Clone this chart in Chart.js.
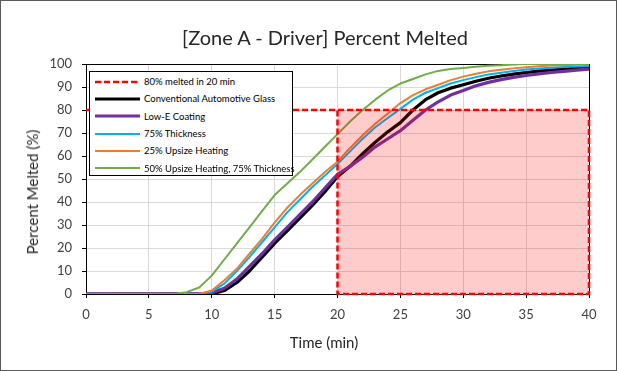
<!DOCTYPE html>
<html>
<head>
<meta charset="utf-8">
<script src="https://cdn.jsdelivr.net/npm/chart.js@4.4.1/dist/chart.umd.min.js"></script>
<style>
    html, body { margin: 0; padding: 0; background: #fff; }
    #wrap { position: relative; width: 617px; height: 371px; font-family: 'Lato', 'Noto Sans', sans-serif; color: #262626; }
    #wrap canvas { position: absolute; left: 0; top: 0; }
    .frame { position: absolute; left: 0; top: 0; width: 615px; height: 369px; border: 1px solid #595959; pointer-events: none; }
    .title { position: absolute; left: 325px; top: 26px; transform: translateX(-50%); font-size: 20px; line-height: 22px; white-space: nowrap; }
    .x-title { position: absolute; left: 324px; top: 334px; transform: translateX(-50%); font-size: 15px; line-height: 16px; white-space: nowrap; }
    .y-title { position: absolute; left: 32px; top: 192px; transform: translate(-50%, -50%) rotate(-90deg); font-size: 15px; line-height: 16px; white-space: nowrap; }
    .legend { position: absolute; left: 89px; top: 71px; width: 204px; height: 105px; border: 1px solid #000; background: #fff; padding-top: 1px; box-sizing: border-box; }
    .legend-row { display: flex; align-items: center; height: 17.3px; font-size: 9.5px; color: #000; white-space: nowrap; }
    .legend-row svg { margin-left: 5px; margin-right: 4px; flex: none; }
</style>
</head>
<body>
<div id="wrap">
    <canvas id="melt-chart" width="617" height="371"></canvas>
    <div class="title">[Zone A - Driver] Percent Melted</div>
    <div class="x-title">Time (min)</div>
    <div class="y-title">Percent Melted (%)</div>
    <div class="legend" id="legend"></div>
    <div class="frame"></div>
</div>
<script>
// time axis (min) shared by all measured curves
const times = [0, 7, 8, 9, 10, 11, 12, 13, 14, 15, 16, 17, 18, 19, 20, 21, 22, 23, 24, 25,
    26, 27, 28, 29, 30, 31, 32, 33, 34, 35, 36, 37, 38, 39, 40];

// percent melted
const conventional = [0, 0, 0, 0, 0, 1.5, 5, 10, 16, 22, 27.5, 33, 38.5, 44.5, 51, 55.5, 61, 66, 70.5, 74.5,
    80, 84.5, 87.5, 89.5, 91, 92.5, 93.8, 94.8, 95.6, 96.3, 96.9, 97.4, 97.8, 98.2, 98.6];
const lowE = [0, 0, 0, 0, 0.5, 2.5, 6.5, 12, 17.5, 23.5, 29, 34.5, 40, 46, 52, 55.5, 59.5, 64, 67.5, 71,
    75.5, 80, 83.5, 86.5, 88.5, 90.5, 92, 93.2, 94.2, 95, 95.7, 96.3, 96.8, 97.3, 97.8];
const thickness75 = [0, 0, 0, 0, 1, 4.5, 10, 16, 22.5, 29, 35.5, 41, 46.5, 51.5, 56.5, 62, 67.5, 72.5, 76.5, 80.5,
    84.5, 87.5, 89.5, 91.5, 93, 94.3, 95.4, 96.2, 97, 97.6, 98, 98.4, 98.7, 98.9, 99.1];
const upsize25 = [0, 0, 0, 0, 1.5, 6, 11, 17.5, 24, 31, 37.5, 43, 48, 53, 57.5, 63.5, 69, 74, 78.5, 83,
    86.5, 89, 91, 93, 94.5, 95.8, 96.8, 97.5, 98.1, 98.6, 99, 99.3, 99.5, 99.7, 99.8];
const upsize50Thick75 = [0, 0, 0.8, 2.8, 8, 15, 22, 29, 36, 43, 48, 53, 58.5, 64, 69.5, 75, 80, 84.5, 88.5, 91.5,
    93.5, 95.5, 97, 97.8, 98.3, 98.8, 99.2, 99.5, 99.8, 100, 100, 100, 100, 100, 100];

// target: 80% melted in 20 min
const targetX = [0, 40, 40, 20, 20];
const targetY = [80, 80, 0, 0, 80];
const targetFillX = [20, 40];
const targetFillY = [80, 80];

const xTicks = [0, 5, 10, 15, 20, 25, 30, 35, 40];
const yTicks = [0, 10, 20, 30, 40, 50, 60, 70, 80, 90, 100];

const series = [
    { label: 'Conventional Automotive Glass', values: conventional, color: '#000000', width: 3.2 },
    { label: 'Low-E Coating', values: lowE, color: '#7030A0', width: 3.2 },
    { label: '75% Thickness', values: thickness75, color: '#00B0F0', width: 2 },
    { label: '25% Upsize Heating', values: upsize25, color: '#ED7D31', width: 2 },
    { label: '50% Upsize Heating, 75% Thickness', values: upsize50Thick75, color: '#70AD47', width: 2 },
];

function toPoints(xs, ys) {
    return xs.map((x, i) => ({ x: x, y: ys[i] }));
}

function renderLegend() {
    const rows = [`
        <div class="legend-row">
            <svg width="45" height="4"><line x1="0" y1="2" x2="45" y2="2" stroke="#FF0000" stroke-width="2.5" stroke-dasharray="6 3"/></svg>
            80% melted in 20 min
        </div>`];
    series.forEach(s => {
        rows.push(`
        <div class="legend-row">
            <svg width="45" height="4"><line x1="0" y1="2" x2="45" y2="2" stroke="${s.color}" stroke-width="${s.width}"/></svg>
            ${s.label}
        </div>`);
    });
    document.getElementById('legend').innerHTML = rows.join('');
}

function renderChart() {
    const datasets = [
        {
            label: 'target area',
            data: toPoints(targetFillX, targetFillY),
            fill: 'origin',
            backgroundColor: 'rgba(255, 0, 0, 0.2)',
            borderWidth: 0,
            pointRadius: 0,
            order: 0,
        },
        {
            label: '80% melted in 20 min',
            data: toPoints(targetX, targetY),
            borderColor: '#FF0000',
            borderWidth: 2.5,
            borderDash: [6, 3],
            fill: false,
            pointRadius: 0,
            clip: false,
            order: 1,
        },
    ];

    // later series sit on top, as in the original
    series.slice().reverse().forEach((s, i) => {
        datasets.push({
            label: s.label,
            data: toPoints(times, s.values),
            borderColor: s.color,
            borderWidth: s.width,
            fill: false,
            pointRadius: 0,
            tension: 0,
            borderJoinStyle: 'round',
            order: 2 + i,
        });
    });

    new Chart(document.getElementById('melt-chart').getContext('2d'), {
        type: 'line',
        data: { datasets: datasets },
        options: {
            responsive: false,
            animation: false,
            layout: { padding: { top: 64, right: 28, bottom: 45, left: 0 } },
            plugins: {
                legend: { display: false },
                tooltip: { enabled: false },
            },
            scales: {
                x: {
                    type: 'linear',
                    min: 0,
                    max: 40,
                    afterBuildTicks: scale => { scale.ticks = xTicks.map(v => ({ value: v })); },
                    afterFit: scale => { scale.height = 32; },
                    border: { color: '#000', width: 1 },
                    grid: {
                        color: ctx => (ctx.tick && ctx.tick.value === 40 ? '#000' : '#d9d9d9'),
                        tickColor: '#000',
                        tickLength: 4,
                    },
                    ticks: {
                        padding: 9,
                        color: '#404040',
                        font: { family: 'Lato', size: 13 },
                        maxRotation: 0,
                    },
                },
                y: {
                    min: 0,
                    max: 100,
                    afterBuildTicks: scale => { scale.ticks = yTicks.map(v => ({ value: v })); },
                    afterFit: scale => { scale.width = 86; },
                    border: { color: '#000', width: 1 },
                    grid: {
                        color: ctx => (ctx.tick && ctx.tick.value === 100 ? '#000' : '#d9d9d9'),
                        tickColor: '#000',
                        tickLength: 4,
                    },
                    ticks: {
                        padding: 10,
                        color: '#404040',
                        font: { family: 'Lato', size: 13 },
                    },
                },
            },
        },
    });
}

renderLegend();
renderChart();
</script>
</body>
</html>
